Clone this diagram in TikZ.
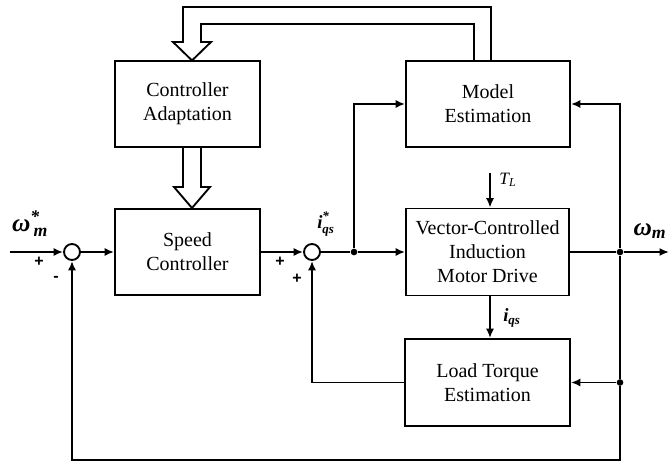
\documentclass[tikz,border=0pt]{standalone}
\usepackage{amsmath}
\usepackage{fontspec}
\setmainfont{Liberation Serif}
\newfontfamily\serifnt{Liberation Serif}
\newfontfamily\signfont{Liberation Sans}
\usetikzlibrary{arrows.meta}
\newcommand\bi[1]{\textbf{\textit{#1}}}
\begin{document}
\begin{tikzpicture}[x=0.75pt,y=-0.75pt,
  every node/.style={font=\serifnt\fontsize{15}{18}\selectfont},
  blk/.style={draw, line width=1.4pt, inner sep=0pt, align=center},
  sumc/.style={draw, circle, line width=1.4pt, minimum size=12pt, inner sep=0pt},
  dotn/.style={circle, fill, minimum size=5pt, inner sep=0pt},
  ln/.style={line width=1.4pt},
  arr/.style={ln, -{Latex[length=7pt,width=6pt]}},
  lbl/.style={inner sep=0pt},
  biglbl/.style={inner sep=0pt, font=\serifnt\fontsize{19}{19}\selectfont},
  smlbl/.style={inner sep=0pt, font=\serifnt\fontsize{14}{14}\selectfont},
  sgn/.style={inner sep=0pt, font=\signfont\bfseries\fontsize{12}{12}\selectfont},
  dblarr/.style={draw, line width=1.4pt, line join=miter}
]
\useasboundingbox (0,0) rectangle (670,466);

% blocks
\node[blk, minimum width=108.75pt, minimum height=64.5pt] (ca) at (187.5,104) {Controller\\Adaptation};
\node[blk, minimum width=108.75pt, minimum height=64.5pt] (sc) at (187.5,252) {Speed\\Controller};
\node[blk, minimum width=123pt, minimum height=64.5pt] (me) at (488,104) {Model\\Estimation};
\node[blk, minimum width=122.25pt, minimum height=65.25pt] (vc) at (487.5,252) {Vector-Controlled\\Induction\\Motor Drive};
\node[blk, minimum width=123.75pt, minimum height=65.25pt] (lt) at (487.5,382.5) {Load Torque\\Estimation};

% summing junctions
\node[sumc] (s1) at (72,252) {};
\node[sumc] (s2) at (312,252) {};

% branch points
\node[dotn] (d1) at (354,252) {};
\node[dotn] (d2) at (620,252) {};
\node[dotn] (d3) at (620,382.5) {};

% helper coordinates
\coordinate (in) at (10,252);
\coordinate (out) at (669,252);
\coordinate (mel) at (354,104);
\coordinate (mer) at (620,104);
\coordinate (br) at (620,460);
\coordinate (bl) at (72,460);
\coordinate (ltl) at (312,382.5);
\coordinate (tl) at (490,173);

% signal connectors
\draw[arr] (in) -- (s1);
\draw[arr] (s1) -- (sc);
\draw[arr] (sc) -- (s2);
\draw[ln] (s2) -- (d1);
\draw[arr] (d1) -- (vc);
\draw[arr] (d1) -- (mel) -- (me);
\draw[ln] (vc) -- (d2);
\draw[arr] (d2) -- (out);
\draw[arr] (d2) -- (mer) -- (me);
\draw[ln] (d2) -- (d3);
\draw[arr] (d3) -- (lt);
\draw[arr] (d3) -- (br) -- (bl) -- (s1);
\draw[arr] (lt) -- (ltl) -- (s2);
\draw[arr] (tl) -- (tl |- vc.north);
\draw[arr] (vc.south -| tl) -- (lt.north -| tl);

% wide (double) arrows
\draw[dblarr] (474,61) -- (474,24) -- (201,24) -- (201,42) -- (211,42) -- (192,60.5)
  -- (173,42) -- (183,42) -- (183,7) -- (491,7) -- (491,61);
\draw[dblarr] (183,147) -- (183,187) -- (174,187) -- (192,208) -- (210,187) -- (201,187) -- (201,147);

% labels
\node[biglbl] (lwref) at (30,224) {$\bi{ω}^{\bi{*}}_{\,\bi{m}}$};
\node[biglbl] (lwm) at (650,231) {$\bi{ω}_{\bi{m}}$};
\node[smlbl] (liref) at (326,224) {$\bi{i}^{\bi{*}}_{\bi{qs}}$};
\node[smlbl] (liqs) at (512,318) {$\bi{i}_{\bi{qs}}$};
\node[lbl, font=\serifnt\fontsize{13}{13}\selectfont] (ltl2) at (508,180) {$\textit{T}_{\textit{L}}$};

\node[sgn] (p1) at (39,262) {+};
\node[sgn] (m1) at (56,279) {-};
\node[sgn] (p2) at (280,262) {+};
\node[sgn] (p3) at (297,279) {+};
\end{tikzpicture}
\end{document}
